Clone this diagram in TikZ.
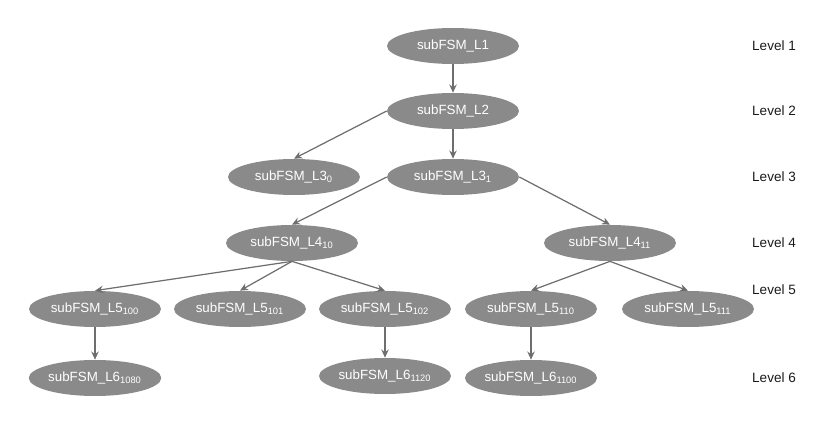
\documentclass[tikz,border=0pt]{standalone}
\usepackage{fontspec}
\setmainfont{Liberation Sans}
\usetikzlibrary{arrows.meta,shapes.geometric}
\definecolor{fsmink}{HTML}{1A1A1A}
\definecolor{fsmgray}{HTML}{8A8A8A}
\definecolor{fsmline}{HTML}{6E6E6E}
\tikzset{
  fsm text/.style={font=\fontsize{7.5}{9}\selectfont, text=fsmink},
  fsm node/.style={ellipse, draw=none, fill=fsmgray, text=white,
    minimum width=2.64cm, minimum height=0.72cm, inner xsep=0pt, inner ysep=1pt,
    font=\fontsize{7.6}{9}\selectfont},
  fsm arrow/.style={-{Stealth[length=4.6pt,width=4.2pt]}, line width=0.7pt,
    draw=fsmline},
  fsm level/.style={font=\fontsize{7.7}{9}\selectfont, text=fsmink, anchor=west}
}
\begin{document}
\begin{tikzpicture}[fsm text, x=0.02cm, y=-0.02cm]
  \useasboundingbox (0,0) rectangle (833,422);
  \node[fsm node] (l1) at (453,46) {subFSM\_L1};
  \node[fsm node] (l2) at (453,111) {subFSM\_L2};
  \node[fsm node] (l30) at (294,177) {subFSM\_L3\textsubscript{0}};
  \node[fsm node] (l31) at (453,177) {subFSM\_L3\textsubscript{1}};
  \node[fsm node] (l410) at (292,243) {subFSM\_L4\textsubscript{10}};
  \node[fsm node] (l411) at (610,243) {subFSM\_L4\textsubscript{11}};
  \node[fsm node] (l5100) at (95,309) {subFSM\_L5\textsubscript{100}};
  \node[fsm node] (l5101) at (240,309) {subFSM\_L5\textsubscript{101}};
  \node[fsm node] (l5102) at (385,309) {subFSM\_L5\textsubscript{102}};
  \node[fsm node] (l5110) at (531,309) {subFSM\_L5\textsubscript{110}};
  \node[fsm node] (l5111) at (688,309) {subFSM\_L5\textsubscript{111}};
  \node[fsm node] (l61080) at (95,378) {subFSM\_L6\textsubscript{1080}};
  \node[fsm node] (l61120) at (385,376) {subFSM\_L6\textsubscript{1120}};
  \node[fsm node] (l61100) at (531,378) {subFSM\_L6\textsubscript{1100}};
  \draw[fsm arrow] (l1)--(l2);
  \draw[fsm arrow] (l2.west)--(l30.north);
  \draw[fsm arrow] (l2)--(l31);
  \draw[fsm arrow] (l31.west)--(l410.north);
  \draw[fsm arrow] (l31.east)--(l411.north);
  \draw[fsm arrow] (l410.south)--(l5100.north);
  \draw[fsm arrow] (l410.south)--(l5101.north);
  \draw[fsm arrow] (l410.south)--(l5102.north);
  \draw[fsm arrow] (l411.south)--(l5110.north);
  \draw[fsm arrow] (l411.south)--(l5111.north);
  \draw[fsm arrow] (l5100)--(l61080);
  \draw[fsm arrow] (l5102)--(l61120);
  \draw[fsm arrow] (l5110)--(l61100);
  \node[fsm level] (lv1) at (746,46) {Level 1};
  \node[fsm level] (lv2) at (746,111) {Level 2};
  \node[fsm level] (lv3) at (746,177) {Level 3};
  \node[fsm level] (lv4) at (746,243) {Level 4};
  \node[fsm level] (lv5) at (746,290) {Level 5};
  \node[fsm level] (lv6) at (746,378) {Level 6};
\end{tikzpicture}
\end{document}
